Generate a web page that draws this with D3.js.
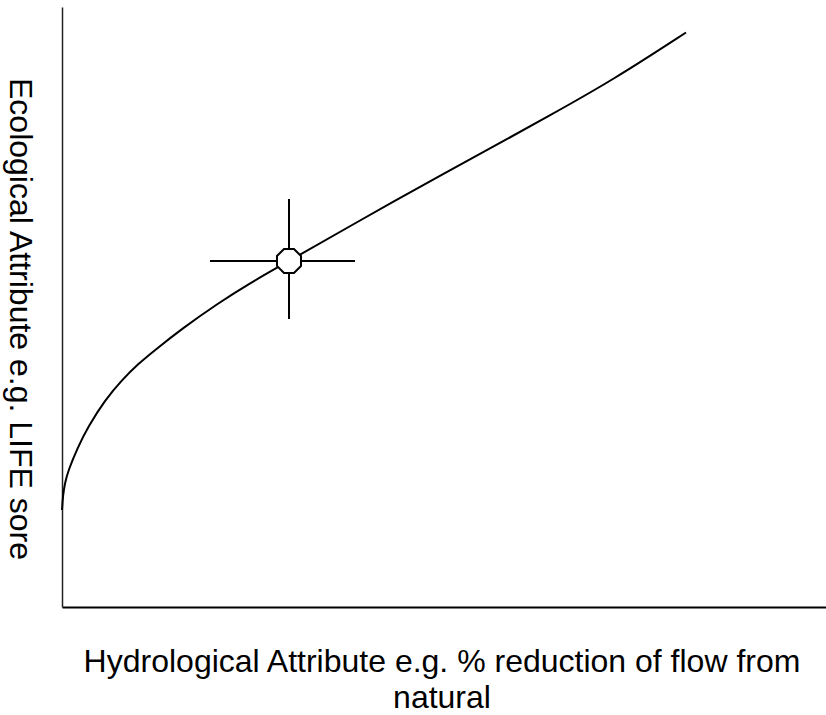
<!DOCTYPE html>
<html>
<head>
<meta charset="utf-8">
<script src="https://cdn.jsdelivr.net/npm/d3@7"></script>
<style>
  html, body { margin: 0; padding: 0; background: #fff; }
  svg { display: block; }
  text { font-family: "Liberation Sans", Arial, sans-serif; fill: #000; }
</style>
</head>
<body>
<script>
// Curve data (x: hydrological attribute, y: ecological attribute)
const curveX = [0, 0.13, 0.39, 0.79, 2.09, 3.40, 5.63, 7.85, 9.95, 12.17, 15.84, 20.29, 24.61, 29.71, 37.70, 50.79, 57.33, 63.48, 72.12, 81.68];
const curveY = [16.17, 18.67, 20.67, 22.67, 26.67, 30.0, 34.5, 37.83, 40.5, 42.83, 46.5, 50.5, 54.0, 57.67, 63.5, 72.83, 77.33, 81.67, 87.83, 95.75];
// Highlighted point with cross bars
const pointX = [29.71];
const pointY = [57.67];
const barXLow = [19.37], barXHigh = [38.35];
const barYLow = [48.0], barYHigh = [68.0];
const xLabelLines = ["Hydrological Attribute e.g. % reduction of flow from", "natural"];
const yLabel = "Ecological Attribute e.g. LIFE sore";

const W = 826, H = 715;
const mLeft = 62, mRight = 826, mTop = 7, mBottom = 607;

const svg = d3.select("body").append("svg").attr("width", W).attr("height", H);

const x = d3.scaleLinear().domain([0, 100]).range([mLeft, mRight]);
const y = d3.scaleLinear().domain([0, 100]).range([mBottom, mTop]);

// Axes (no ticks)
svg.append("g").attr("transform", `translate(0,${mBottom})`)
  .call(d3.axisBottom(x).tickValues([]).tickSizeOuter(0))
  .call(g => g.select(".domain").attr("stroke", "#000").attr("stroke-width", 2));
svg.append("g").attr("transform", `translate(${mLeft},0)`)
  .call(d3.axisLeft(y).tickValues([]).tickSizeOuter(0))
  .call(g => g.select(".domain").attr("stroke", "#222").attr("stroke-width", 1.5));

// Curve
const pts = curveX.map((v, i) => [v, curveY[i]]);
svg.append("path")
  .datum(pts)
  .attr("fill", "none")
  .attr("stroke", "#000")
  .attr("stroke-width", 2)
  .attr("d", d3.line().x(d => x(d[0])).y(d => y(d[1])).curve(d3.curveBasis));

// Cross bars
pointX.forEach((px, i) => {
  svg.append("line").attr("x1", x(barXLow[i])).attr("x2", x(barXHigh[i]))
    .attr("y1", y(pointY[i])).attr("y2", y(pointY[i]))
    .attr("stroke", "#000").attr("stroke-width", 2);
  svg.append("line").attr("x1", x(px)).attr("x2", x(px))
    .attr("y1", y(barYLow[i])).attr("y2", y(barYHigh[i]))
    .attr("stroke", "#000").attr("stroke-width", 2);
  const r = 13;
  const oct = d3.range(8).map(k => {
    const a = Math.PI / 8 + k * Math.PI / 4;
    return [x(px) + r * Math.cos(a), y(pointY[i]) + r * Math.sin(a)];
  });
  svg.append("polygon")
    .attr("points", oct.map(p => p.join(",")).join(" "))
    .attr("fill", "#fff").attr("stroke", "#000").attr("stroke-width", 2);
});

// X label
const xl = svg.append("text").attr("text-anchor", "middle").attr("font-size", 32);
xLabelLines.forEach((t, i) => {
  xl.append("tspan").attr("x", 442).attr("y", 672 + i * 36).text(t);
});

// Y label (rotated, reading top to bottom)
svg.append("text")
  .attr("text-anchor", "middle")
  .attr("font-size", 32)
  .attr("transform", `translate(10,319) rotate(90)`)
  .text(yLabel);
</script>
</body>
</html>
